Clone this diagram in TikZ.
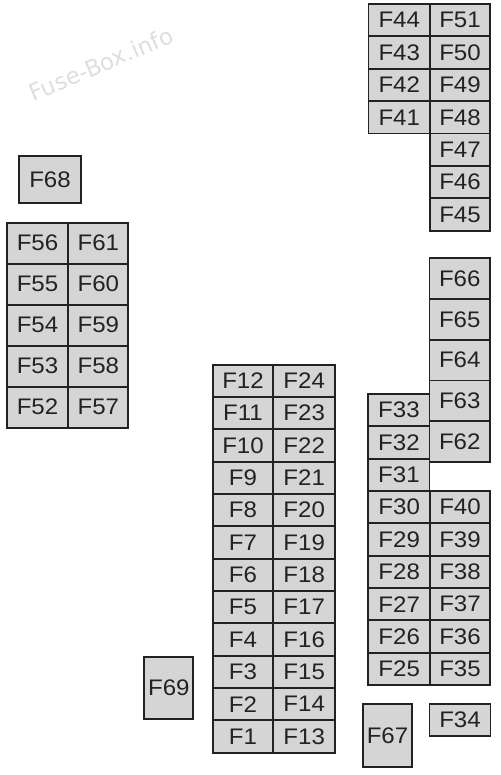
\documentclass[tikz,border=0pt]{standalone}
\usepackage{fontspec}
\setmainfont[FakeStretch=1.07]{Liberation Sans}
\newfontfamily\wmfont{DejaVu Sans}
\definecolor{boxfill}{HTML}{D5D5D5}
\definecolor{boxline}{HTML}{222222}
\tikzset{
  fbox/.style={draw=boxline, fill=boxfill, line width=1.8pt, inner sep=0pt, outer sep=0pt,
    anchor=north west, font=\fontsize{22.5}{22.5}\selectfont, text=boxline},
  wm/.style={font=\wmfont\fontsize{23}{23}\selectfont, text=black!13, rotate=23}
}
% \fb{name}{x}{y}{w}{h}{label}
\newcommand{\fb}[6]{\node[fbox, minimum width=#4pt, minimum height=#5pt] (#1) at (#2,#3) {#6};}
\begin{document}
\begin{tikzpicture}[x=1pt,y=-1pt]
\useasboundingbox (0,0) rectangle (500,775);
\node[wm] (wmark) at (101,64) {Fuse-Box.info};
% top right group
\fb{F44}{368.5}{4}{61.5}{32.4}{F44}
\fb{F43}{368.5}{36.4}{61.5}{32.4}{F43}
\fb{F42}{368.5}{68.8}{61.5}{32.4}{F42}
\fb{F41}{368.5}{101.2}{61.5}{32.4}{F41}
\fb{F51}{430}{4}{60}{32.4}{F51}
\fb{F50}{430}{36.4}{60}{32.4}{F50}
\fb{F49}{430}{68.8}{60}{32.4}{F49}
\fb{F48}{430}{101.2}{60}{32.4}{F48}
\fb{F47}{430}{133.6}{60}{32.4}{F47}
\fb{F46}{430}{166}{60}{32.4}{F46}
\fb{F45}{430}{198.4}{60}{32.4}{F45}
% left group
\fb{F68}{19}{156}{62}{47}{F68}
\fb{F56}{6.7}{222.7}{61.6}{41}{F56}
\fb{F55}{6.7}{263.7}{61.6}{41}{F55}
\fb{F54}{6.7}{304.7}{61.6}{41}{F54}
\fb{F53}{6.7}{345.7}{61.6}{41}{F53}
\fb{F52}{6.7}{386.7}{61.6}{41}{F52}
\fb{F61}{68.3}{222.7}{60}{41}{F61}
\fb{F60}{68.3}{263.7}{60}{41}{F60}
\fb{F59}{68.3}{304.7}{60}{41}{F59}
\fb{F58}{68.3}{345.7}{60}{41}{F58}
\fb{F57}{68.3}{386.7}{60}{41}{F57}
% middle group
\foreach \i/\a/\b in {0/12/24,1/11/23,2/10/22,3/9/21,4/8/20,5/7/19,6/6/18,7/5/17,8/4/16,9/3/15,10/2/14,11/1/13}{
  \pgfmathsetmacro{\yy}{364.7+\i*32.33}
  \fb{F\a}{212.7}{\yy}{60.6}{32.33}{F\a}
  \fb{F\b}{273.3}{\yy}{61.7}{32.33}{F\b}
}
\fb{F69}{144.3}{656.7}{49}{62.6}{F69}
% right middle group
\fb{F66}{429.5}{258.3}{60.5}{40.7}{F66}
\fb{F65}{429.5}{299}{60.5}{40.7}{F65}
\fb{F64}{429.5}{339.7}{60.5}{40.7}{F64}
\fb{F63}{429.5}{380.4}{60.5}{40.7}{F63}
\fb{F62}{429.5}{421.1}{60.5}{40.7}{F62}
\fb{F33}{368.3}{394}{61.2}{32.33}{F33}
\fb{F32}{368.3}{426.33}{61.2}{32.33}{F32}
\fb{F31}{368.3}{458.67}{61.2}{32.33}{F31}
\foreach \i/\a/\b in {0/30/40,1/29/39,2/28/38,3/27/37,4/26/36,5/25/35}{
  \pgfmathsetmacro{\yy}{491+\i*32.33}
  \fb{F\a}{368.3}{\yy}{61.7}{32.33}{F\a}
  \fb{F\b}{430}{\yy}{60}{32.33}{F\b}
}
\fb{F34}{429.5}{704}{61}{32}{F34}
\fb{F67}{363.3}{704}{48.4}{62.7}{F67}
\end{tikzpicture}
\end{document}
